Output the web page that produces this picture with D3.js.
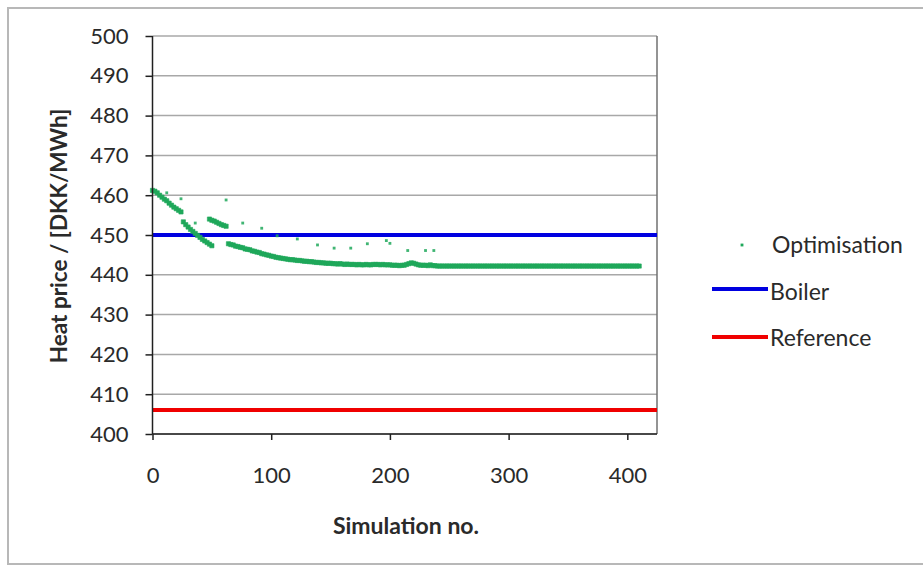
<!DOCTYPE html>
<html>
<head>
<meta charset="utf-8">
<script src="https://cdn.jsdelivr.net/npm/d3@7/dist/d3.min.js"></script>
<style>
  html, body { margin: 0; padding: 0; background: #fff; }
  svg { display: block; }
  text { font-family: Lato, "Open Sans", sans-serif; fill: #2a2a2a; }
</style>
</head>
<body>
<svg id="chart" width="923" height="568"></svg>
<script>
// ---------- data ----------
const xTicks = [0, 100, 200, 300, 400];
const yTicks = [400, 410, 420, 430, 440, 450, 460, 470, 480, 490, 500];
const boilerPrice = 450;
const referencePrice = 406;
const simStep = 2;

// Optimisation runs: heat price for simulation no. start, start+2, start+4, ...
const runAStart = 0;
const runA = [461.2, 461.0, 460.6, 460.0, 459.5, 459.0, 458.6, 458.0, 457.5, 457.0, 456.6, 456.2, 455.8];
const runBStart = 26;
const runB = [453.3, 452.6, 452.0, 451.4, 450.9, 450.4, 449.9, 449.4, 448.9, 448.5, 448.1, 447.7, 447.3];
const runCStart = 48;
const runC = [454.0, 453.7, 453.5, 453.2, 452.9, 452.6, 452.4, 452.2];
const runDStart = 64;
const runD = [
  447.8, 447.6, 447.5, 447.2, 447.1, 446.9, 446.8, 446.5, 446.4, 446.3,
  446.0, 445.9, 445.7, 445.6, 445.3, 445.2, 445.0, 444.9, 444.7, 444.6,
  444.4, 444.3, 444.2, 444.1, 444.0, 443.9, 443.8, 443.8, 443.7, 443.6,
  443.6, 443.5, 443.4, 443.4, 443.3, 443.3, 443.2, 443.1, 443.1, 443.0,
  443.0, 442.9, 442.9, 442.9, 442.8, 442.8, 442.7, 442.8, 442.7, 442.6,
  442.7, 442.6, 442.6, 442.6, 442.5, 442.6, 442.5, 442.5, 442.6, 442.5,
  442.5, 442.6, 442.6, 442.6, 442.5, 442.6, 442.5, 442.5, 442.5, 442.4,
  442.4, 442.4, 442.3, 442.4, 442.4, 442.6, 442.8, 443.0, 442.9, 442.7,
  442.5, 442.4, 442.4, 442.4, 442.3, 442.5, 442.3, 442.3
];
const runEStart = 240;
const runE = [
  442.2, 442.2, 442.2, 442.2, 442.2, 442.2, 442.2, 442.2, 442.2, 442.2,
  442.2, 442.2, 442.2, 442.2, 442.2, 442.2, 442.2, 442.2, 442.2, 442.2,
  442.2, 442.2, 442.2, 442.2, 442.2, 442.2, 442.2, 442.2, 442.2, 442.2,
  442.2, 442.2, 442.2, 442.2, 442.2, 442.2, 442.2, 442.2, 442.2, 442.2,
  442.2, 442.2, 442.2, 442.2, 442.2, 442.2, 442.2, 442.2, 442.2, 442.2,
  442.2, 442.2, 442.2, 442.2, 442.2, 442.2, 442.2, 442.2, 442.2, 442.2,
  442.2, 442.2, 442.2, 442.2, 442.2, 442.2, 442.2, 442.2, 442.2, 442.2,
  442.2, 442.2, 442.2, 442.2, 442.2, 442.2, 442.2, 442.2, 442.2, 442.2,
  442.2, 442.2, 442.2, 442.2, 442.2, 442.2
];
// isolated optimisation points [simulation no., heat price]
const outliers = [
  [12, 460.6], [24, 459.1], [36, 453.0], [62, 458.8], [76, 453.0], [92, 451.7],
  [105, 449.8], [122, 449.0], [139, 447.5], [153, 446.7], [167, 446.7], [181, 447.8],
  [197, 448.6], [200, 447.9], [215, 446.1], [230, 446.1], [237, 446.1]
];
const legendLabels = ["Optimisation", "Boiler", "Reference"];
const colors = { opt: "#1fa85a", boiler: "#0000e0", reference: "#f00000" };

// ---------- build points ----------
const runs = [[runAStart, runA], [runBStart, runB], [runCStart, runC], [runDStart, runD], [runEStart, runE]];
const optPoints = [];
runs.forEach(([s, vals]) => vals.forEach((v, i) => optPoints.push([s + i * simStep, v])));
const outlierPoints = outliers.slice();

// ---------- layout ----------
const svg = d3.select("#chart");
const pLeft = 152.5, pRight = 657, pTop = 36, pBottom = 434;
const x = d3.scaleLinear().domain([0, 425]).range([pLeft, pRight]);
const y = d3.scaleLinear().domain([400, 500]).range([pBottom, pTop]);

// outer frame
svg.append("rect").attr("x", 8).attr("y", 8).attr("width", 940).attr("height", 556)
  .attr("fill", "#fff").attr("stroke", "#b8b8b8").attr("stroke-width", 2);

// gridlines
svg.append("g").selectAll("line").data(yTicks).join("line")
  .attr("x1", pLeft).attr("x2", pRight)
  .attr("y1", d => y(d)).attr("y2", d => y(d))
  .attr("stroke", "#a8a8a8").attr("stroke-width", 1.5);

// plot border (right side)
svg.append("line").attr("x1", pRight).attr("x2", pRight).attr("y1", pTop).attr("y2", pBottom)
  .attr("stroke", "#707070").attr("stroke-width", 1.5);

// reference lines
svg.append("line").attr("x1", pLeft).attr("x2", pRight)
  .attr("y1", y(boilerPrice)).attr("y2", y(boilerPrice))
  .attr("stroke", colors.boiler).attr("stroke-width", 4);
svg.append("line").attr("x1", pLeft).attr("x2", pRight)
  .attr("y1", y(referencePrice)).attr("y2", y(referencePrice))
  .attr("stroke", colors.reference).attr("stroke-width", 4);

// points
const sym = d3.symbol().type(d3.symbolSquare).size(18);
const symSmall = d3.symbol().type(d3.symbolSquare).size(8);
svg.append("g").selectAll("path").data(optPoints).join("path")
  .attr("d", sym)
  .attr("transform", d => `translate(${x(d[0])},${y(d[1])})`)
  .attr("fill", colors.opt).attr("stroke", colors.opt).attr("stroke-width", 0.6);
svg.append("g").selectAll("path").data(outlierPoints).join("path")
  .attr("d", symSmall)
  .attr("transform", d => `translate(${x(d[0])},${y(d[1])})`)
  .attr("fill", colors.opt).attr("opacity", 0.85);

// axes
const yAxis = svg.append("g").attr("transform", `translate(${pLeft},0)`)
  .call(d3.axisLeft(y).tickValues(yTicks).tickSize(7).tickPadding(17).tickSizeOuter(0));
const xAxis = svg.append("g").attr("transform", `translate(0,${pBottom})`)
  .call(d3.axisBottom(x).tickValues(xTicks).tickSize(6).tickPadding(27).tickSizeOuter(0));
[yAxis, xAxis].forEach(g => {
  g.select(".domain").attr("stroke", "#202020").attr("stroke-width", 1.5);
  g.selectAll(".tick line").attr("stroke", "#202020").attr("stroke-width", 1.5);
  g.selectAll(".tick text").attr("font-family", "Lato, sans-serif").attr("font-size", 22).attr("fill", "#2a2a2a");
});
yAxis.select(".domain").attr("d", `M0,${pTop}V${pBottom}`);
xAxis.select(".domain").attr("d", `M${pLeft},0H${pRight}`);

// axis titles
svg.append("text")
  .attr("transform", "translate(67,236) rotate(-90)")
  .attr("text-anchor", "middle").attr("font-size", 22.5).attr("font-weight", "bold")
  .text("Heat price  / [DKK/MWh]");
svg.append("text")
  .attr("x", 406).attr("y", 534)
  .attr("text-anchor", "middle").attr("font-size", 23).attr("font-weight", "bold")
  .text("Simulation no.");

// legend
const lg = svg.append("g");
lg.append("path").attr("d", symSmall).attr("transform", "translate(742,245)")
  .attr("fill", colors.opt);
lg.append("line").attr("x1", 712).attr("x2", 768).attr("y1", 289).attr("y2", 289)
  .attr("stroke", colors.boiler).attr("stroke-width", 4);
lg.append("line").attr("x1", 712).attr("x2", 768).attr("y1", 337).attr("y2", 337)
  .attr("stroke", colors.reference).attr("stroke-width", 4);
lg.selectAll("text").data(legendLabels).join("text")
  .attr("x", (d, i) => i === 0 ? 772 : 770)
  .attr("y", (d, i) => [253, 300, 346][i])
  .attr("font-size", 23)
  .text(d => d);
</script>
</body>
</html>
